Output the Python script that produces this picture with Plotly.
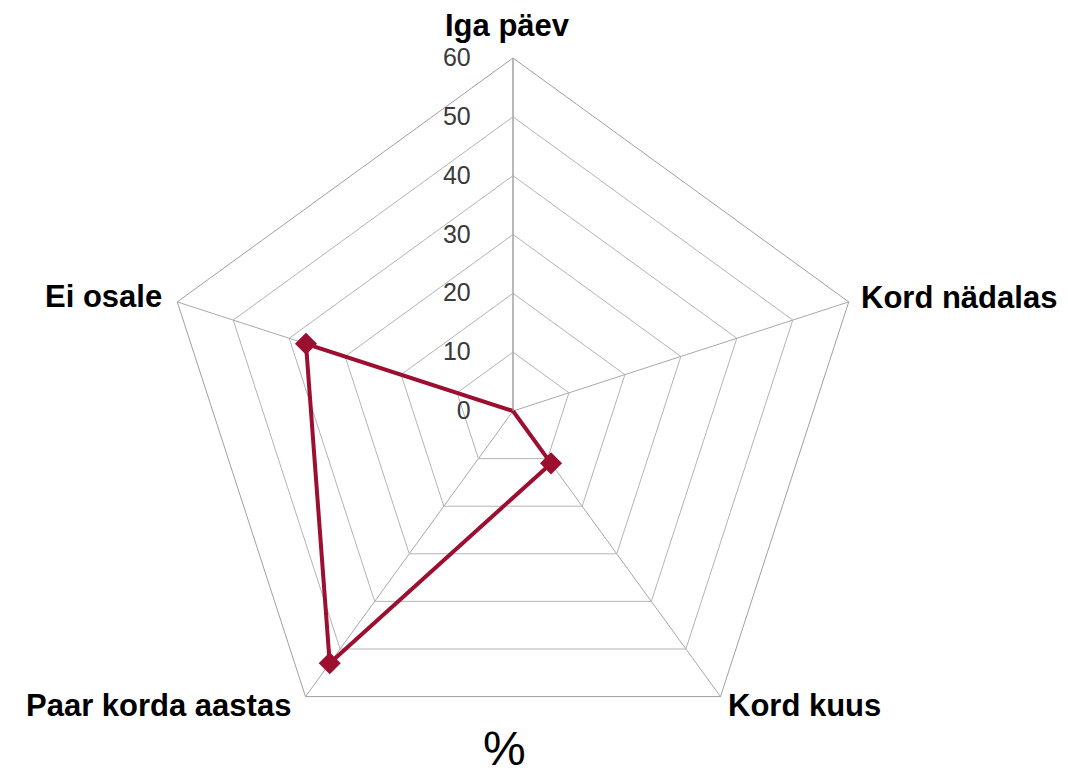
import math
import plotly.graph_objects as go

categories = ["Iga päev", "Kord nädalas", "Kord kuus", "Paar korda aastas", "Ei osale"]
values = [0, 0, 11, 53, 37]
radial_ticks = [0, 10, 20, 30, 40, 50, 60]

W, H = 1068, 773
OFF = 8  # page body margin that shifts the figure on screen
# domain box (screen pixels) for the polar area
dcx, dcy, dR = 505, 403, 353
# apparent polygon centre/radius on screen (for label placement)
cx, cy, R = 512.5, 410, 350

RED = "#9c0f30"


def px_to_paper(sx, sy):
    return (sx - OFF) / W, 1 - (sy - OFF) / H


fig = go.Figure()
fig.add_trace(go.Scatterpolar(
    r=values + [values[0]],
    theta=categories + [categories[0]],
    mode="lines+markers",
    line=dict(color=RED, width=4),
    marker=dict(symbol="diamond", size=17, color=RED),
    showlegend=False,
))

# label placement offsets relative to each outer vertex: (dx, dy, xanchor)
label_offsets = [(-5, -34, "center"), (15, -4, "left"), (9, 12, "left"),
                 (-15, 12, "right"), (-17, -5, "right")]
annotations = []
n = len(categories)
for i, (cat, (dx, dy, xa)) in enumerate(zip(categories, label_offsets)):
    th = 2 * math.pi * i / n
    ax, ay = px_to_paper(cx + R * math.sin(th) + dx, cy - R * math.cos(th) + dy)
    annotations.append(dict(
        text=cat, x=ax, y=ay, xref="paper", yref="paper",
        xanchor=xa, yanchor="middle", showarrow=False, borderpad=0,
        font=dict(family="Arial, Liberation Sans", size=31, color="black", weight="bold"),
    ))
annotations.append(dict(
    text="%", x=(504 - OFF) / W, y=0.0048, xref="paper", yref="paper",
    xanchor="center", yanchor="bottom", showarrow=False,
    font=dict(family="Arial, Liberation Sans", size=48, color="black"),
))

fig.update_layout(
    width=W, height=H,
    margin=dict(l=0, r=0, t=0, b=0),
    paper_bgcolor="white",
    plot_bgcolor="white",
    font=dict(family="Arial, Liberation Sans", color="black"),
    polar=dict(
        domain=dict(x=[(dcx - dR) / W, (dcx + dR) / W],
                    y=[(H - dcy - dR) / H, (H - dcy + dR) / H]),
        bgcolor="white",
        gridshape="linear",
        radialaxis=dict(
            range=[0, 60],
            tickvals=radial_ticks,
            angle=90,
            tickangle=90,
            side="counterclockwise",
            showline=True,
            linecolor="#a0a0a0",
            linewidth=1,
            gridcolor="#b4b4b4",
            gridwidth=1,
            ticks="outside",
            ticklen=33,
            tickcolor="rgba(0,0,0,0)",
            tickfont=dict(family="Arial, Liberation Sans", size=25, color="#3a3a3a"),
        ),
        angularaxis=dict(
            rotation=90,
            direction="clockwise",
            showline=True,
            linecolor="#a0a0a0",
            linewidth=1,
            gridcolor="#a8a8a8",
            ticks="",
            showticklabels=False,
        ),
    ),
    annotations=annotations,
)

fig.write_html("out.html")
